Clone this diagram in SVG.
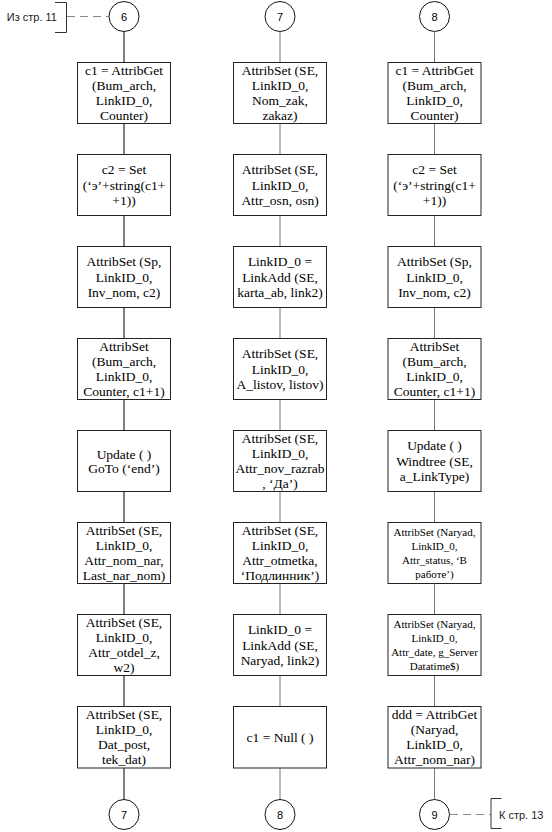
<svg xmlns="http://www.w3.org/2000/svg" width="552" height="832" viewBox="0 0 552 832">
<style>
.box{fill:#fff;stroke:#222;stroke-width:1}
.circ{fill:#fff;stroke:#111;stroke-width:1}
.t{font-family:"Liberation Serif","Times New Roman",serif;font-size:13.5px;fill:#000;text-anchor:middle}
.ts{font-family:"Liberation Serif","Times New Roman",serif;font-size:11px;fill:#000;text-anchor:middle}
.n{font-family:"Liberation Sans",Arial,sans-serif;font-size:11px;fill:#000;text-anchor:middle}
.ref{font-family:"Liberation Sans",Arial,sans-serif;font-size:11px;fill:#222}
.l1{stroke:#000;stroke-width:1;fill:none}
.l2{stroke:#777;stroke-width:1;fill:none}
.dash{stroke:#888;stroke-width:1.2;stroke-dasharray:8 5;fill:none}
.br{stroke:#333;stroke-width:1;fill:none}
</style>
<rect width="552" height="832" fill="#fff"/>

<g id="connectors">
  <line class="l1" x1="124" y1="32" x2="124" y2="800"/>
  <line class="l2" x1="280" y1="32" x2="280" y2="800"/>
  <line class="l2" x1="434.5" y1="32" x2="434.5" y2="800"/>
  <line class="dash" x1="67" y1="16.5" x2="108.5" y2="16.5"/>
  <line class="dash" x1="450" y1="814.5" x2="490.5" y2="814.5"/>
</g>

<g id="ref-from">
  <path class="br" d="M55,2.5 H66.5 V32.5 H55"/>
  <text class="ref" x="57" y="20.5" text-anchor="end">Из стр. 11</text>
</g>
<g id="ref-to">
  <path class="br" d="M501.5,798.5 H491 V828.5 H501.5"/>
  <text class="ref" x="499" y="819">К стр. 13</text>
</g>

<g id="c6"><circle class="circ" cx="124" cy="16.5" r="15"/><text class="n" x="124" y="20.5">6</text></g>
<g id="c7top"><circle class="circ" cx="280" cy="16.5" r="15"/><text class="n" x="280" y="20.5">7</text></g>
<g id="c8top"><circle class="circ" cx="434.5" cy="16.5" r="15"/><text class="n" x="434.5" y="20.5">8</text></g>

<!-- Column 1 -->
<g id="a1"><rect class="box" x="77.5" y="62.5" width="93" height="61"/>
<text class="t" y="75"><tspan x="124">c1 = AttribGet</tspan><tspan x="124" dy="15">(Bum_arch,</tspan><tspan x="124" dy="15">LinkID_0,</tspan><tspan x="124" dy="15">Counter)</tspan></text></g>
<g id="a2"><rect class="box" x="77.5" y="154.5" width="93" height="61"/>
<text class="t" y="174"><tspan x="124">c2 = Set</tspan><tspan x="124" dy="15.5">(‘э’+string(c1+</tspan><tspan x="124" dy="15.5">+1))</tspan></text></g>
<g id="a3"><rect class="box" x="77.5" y="246.5" width="93" height="61"/>
<text class="t" y="266"><tspan x="124">AttribSet (Sp,</tspan><tspan x="124" dy="15.5">LinkID_0,</tspan><tspan x="124" dy="15.5">Inv_nom, c2)</tspan></text></g>
<g id="a4"><rect class="box" x="77.5" y="338.5" width="93" height="61"/>
<text class="t" y="351"><tspan x="124">AttribSet</tspan><tspan x="124" dy="15">(Bum_arch,</tspan><tspan x="124" dy="15">LinkID_0,</tspan><tspan x="124" dy="15">Counter, c1+1)</tspan></text></g>
<g id="a5"><rect class="box" x="77.5" y="430.5" width="93" height="61"/>
<text class="t" y="458.5"><tspan x="124">Update ( )</tspan><tspan x="124" dy="14">GoTo (‘end’)</tspan></text></g>
<g id="a6"><rect class="box" x="77.5" y="522.5" width="93" height="61"/>
<text class="t" y="535"><tspan x="124">AttribSet (SE,</tspan><tspan x="124" dy="15">LinkID_0,</tspan><tspan x="124" dy="15">Attr_nom_nar,</tspan><tspan x="124" dy="15">Last_nar_nom)</tspan></text></g>
<g id="a7"><rect class="box" x="77.5" y="614.5" width="93" height="61"/>
<text class="t" y="627"><tspan x="124">AttribSet (SE,</tspan><tspan x="124" dy="15">LinkID_0,</tspan><tspan x="124" dy="15">Attr_otdel_z,</tspan><tspan x="124" dy="15">w2)</tspan></text></g>
<g id="a8"><rect class="box" x="77.5" y="706.5" width="93" height="61.5"/>
<text class="t" y="719"><tspan x="124">AttribSet (SE,</tspan><tspan x="124" dy="15">LinkID_0,</tspan><tspan x="124" dy="15">Dat_post,</tspan><tspan x="124" dy="15">tek_dat)</tspan></text></g>
<g id="c7bot"><circle class="circ" cx="124" cy="814.5" r="15"/><text class="n" x="124" y="818.5">7</text></g>

<!-- Column 2 -->
<g id="b1"><rect class="box" x="233.5" y="62.5" width="93" height="61"/>
<text class="t" y="75"><tspan x="280">AttribSet (SE,</tspan><tspan x="280" dy="15">LinkID_0,</tspan><tspan x="280" dy="15">Nom_zak,</tspan><tspan x="280" dy="15">zakaz)</tspan></text></g>
<g id="b2"><rect class="box" x="233.5" y="154.5" width="93" height="61"/>
<text class="t" y="174"><tspan x="280">AttribSet (SE,</tspan><tspan x="280" dy="15.5">LinkID_0,</tspan><tspan x="280" dy="15.5">Attr_osn, osn)</tspan></text></g>
<g id="b3"><rect class="box" x="233.5" y="246.5" width="93" height="61"/>
<text class="t" y="266"><tspan x="280">LinkID_0 =</tspan><tspan x="280" dy="15.5">LinkAdd (SE,</tspan><tspan x="280" dy="15.5">karta_ab, link2)</tspan></text></g>
<g id="b4"><rect class="box" x="233.5" y="338.5" width="93" height="61"/>
<text class="t" y="358"><tspan x="280">AttribSet (SE,</tspan><tspan x="280" dy="15.5">LinkID_0,</tspan><tspan x="280" dy="15.5">A_listov, listov)</tspan></text></g>
<g id="b5"><rect class="box" x="233.5" y="430.5" width="93" height="61"/>
<text class="t" y="443"><tspan x="280">AttribSet (SE,</tspan><tspan x="280" dy="15">LinkID_0,</tspan><tspan x="280" dy="15">Attr_nov_razrab</tspan><tspan x="280" dy="15">, ‘Да’)</tspan></text></g>
<g id="b6"><rect class="box" x="233.5" y="522.5" width="93" height="61"/>
<text class="t" y="535"><tspan x="280">AttribSet (SE,</tspan><tspan x="280" dy="15">LinkID_0,</tspan><tspan x="280" dy="15">Attr_otmetka,</tspan><tspan x="280" dy="15">‘Подлинник’)</tspan></text></g>
<g id="b7"><rect class="box" x="233.5" y="614.5" width="93" height="61"/>
<text class="t" y="634"><tspan x="280">LinkID_0 =</tspan><tspan x="280" dy="15.5">LinkAdd (SE,</tspan><tspan x="280" dy="15.5">Naryad, link2)</tspan></text></g>
<g id="b8"><rect class="box" x="233.5" y="706.5" width="93" height="61.5"/>
<text class="t" x="280" y="741.5">c1 = Null ( )</text></g>
<g id="c8bot"><circle class="circ" cx="280" cy="814.5" r="15"/><text class="n" x="280" y="818.5">8</text></g>

<!-- Column 3 -->
<g id="d1"><rect class="box" x="388" y="62.5" width="93" height="61"/>
<text class="t" y="75"><tspan x="434.5">c1 = AttribGet</tspan><tspan x="434.5" dy="15">(Bum_arch,</tspan><tspan x="434.5" dy="15">LinkID_0,</tspan><tspan x="434.5" dy="15">Counter)</tspan></text></g>
<g id="d2"><rect class="box" x="388" y="154.5" width="93" height="61"/>
<text class="t" y="174"><tspan x="434.5">c2 = Set</tspan><tspan x="434.5" dy="15.5">(‘э’+string(c1+</tspan><tspan x="434.5" dy="15.5">+1))</tspan></text></g>
<g id="d3"><rect class="box" x="388" y="246.5" width="93" height="61"/>
<text class="t" y="266"><tspan x="434.5">AttribSet (Sp,</tspan><tspan x="434.5" dy="15.5">LinkID_0,</tspan><tspan x="434.5" dy="15.5">Inv_nom, c2)</tspan></text></g>
<g id="d4"><rect class="box" x="388" y="338.5" width="93" height="61"/>
<text class="t" y="351"><tspan x="434.5">AttribSet</tspan><tspan x="434.5" dy="15">(Bum_arch,</tspan><tspan x="434.5" dy="15">LinkID_0,</tspan><tspan x="434.5" dy="15">Counter, c1+1)</tspan></text></g>
<g id="d5"><rect class="box" x="388" y="430.5" width="93" height="61"/>
<text class="t" y="450"><tspan x="434.5">Update ( )</tspan><tspan x="434.5" dy="15.5">Windtree (SE,</tspan><tspan x="434.5" dy="15.5">a_LinkType)</tspan></text></g>
<g id="d6"><rect class="box" x="388" y="522.5" width="93" height="61"/>
<text class="ts" y="536"><tspan x="434.5">AttribSet (Naryad,</tspan><tspan x="434.5" dy="14">LinkID_0,</tspan><tspan x="434.5" dy="14">Attr_status, ‘В</tspan><tspan x="434.5" dy="14">работе’)</tspan></text></g>
<g id="d7"><rect class="box" x="388" y="614.5" width="93" height="61"/>
<text class="ts" y="628"><tspan x="434.5">AttribSet (Naryad,</tspan><tspan x="434.5" dy="14">LinkID_0,</tspan><tspan x="434.5" dy="14">Attr_date, g_Server</tspan><tspan x="434.5" dy="14">Datatime$)</tspan></text></g>
<g id="d8"><rect class="box" x="388" y="706.5" width="93" height="61.5"/>
<text class="t" y="719"><tspan x="434.5">ddd = AttribGet</tspan><tspan x="434.5" dy="15">(Naryad,</tspan><tspan x="434.5" dy="15">LinkID_0,</tspan><tspan x="434.5" dy="15">Attr_nom_nar)</tspan></text></g>
<g id="c9"><circle class="circ" cx="434.5" cy="814.5" r="15"/><text class="n" x="434.5" y="818.5">9</text></g>
</svg>
